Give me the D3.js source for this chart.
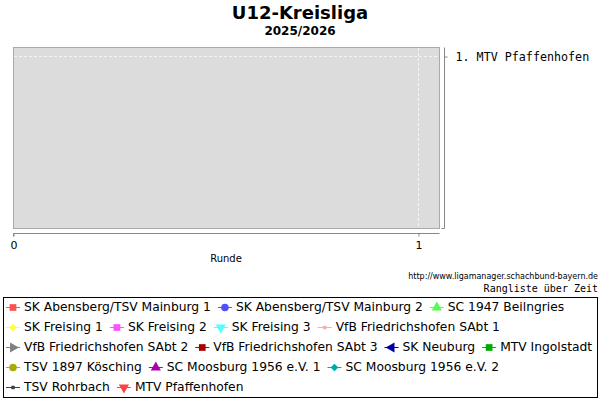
<!DOCTYPE html>
<html>
<head>
<meta charset="utf-8">
<script src="https://cdn.jsdelivr.net/npm/d3@7"></script>
<style>
  body { margin: 0; background: #fff; }
  svg { display: block; }
</style>
</head>
<body>
<svg></svg>
<script>
// data
let title = 'U12-Kreisliga'
let season = '2025/2026'
let rounds = [0, 1]
let rankTicks = [1]
let finalRanking = ['MTV Pfaffenhofen']
let teams = ['SK Abensberg/TSV Mainburg 1', 'SK Abensberg/TSV Mainburg 2', 'SC 1947 Beilngries',
             'SK Freising 1', 'SK Freising 2', 'SK Freising 3', 'VfB Friedrichshofen SAbt 1',
             'VfB Friedrichshofen SAbt 2', 'VfB Friedrichshofen SAbt 3', 'SK Neuburg', 'MTV Ingolstadt',
             'TSV 1897 Kösching', 'SC Moosburg 1956 e.V. 1', 'SC Moosburg 1956 e.V. 2',
             'TSV Rohrbach', 'MTV Pfaffenhofen']
let teamColors = ['#ff5050', '#5050ff', '#50ff50', '#ffff40', '#ff50ff', '#50ffff', '#ffaaaa',
                  '#808080', '#aa0000', '#0000aa', '#00aa00', '#aaaa00', '#aa00aa', '#00aaaa',
                  '#404040', '#ff4040']
let teamShapes = ['square', 'circle', 'triUp', 'diamond', 'square', 'triDown', 'dash',
                  'triRight', 'square', 'triLeft', 'square', 'circle', 'triUp', 'diamond',
                  'dash', 'triDown']

let width = 600
let height = 400

let svg = d3.select('svg')
svg.attr('width', width).attr('height', height)

let plot = {left: 13, right: 439, top: 47, bottom: 228}

let xScale = d3.scaleLinear().domain([0, 1.052]).range([plot.left, plot.right])
let yScale = d3.scaleLinear().domain([0.5, 10.5]).range([plot.top, plot.bottom])

// titles
svg.append('text')
   .attr('x', 300).attr('y', 19)
   .attr('text-anchor', 'middle')
   .style('font', 'bold 18px "DejaVu Sans"')
   .text(title)
svg.append('text')
   .attr('x', 300).attr('y', 35)
   .attr('text-anchor', 'middle')
   .style('font', 'bold 12px "DejaVu Sans"')
   .text(season)

// plot area
svg.append('rect')
   .attr('x', plot.left + 0.5).attr('y', plot.top + 0.5)
   .attr('width', plot.right - plot.left).attr('height', plot.bottom - plot.top)
   .attr('fill', '#dcdcdc')
   .attr('stroke', '#aaaaaa')

// grid
svg.selectAll('.vgrid')
   .data(rounds.filter(r => r > 0))
   .enter()
   .append('line')
   .attr('x1', d => Math.round(xScale(d)) + 0.5).attr('x2', d => Math.round(xScale(d)) + 0.5)
   .attr('y1', plot.top + 1).attr('y2', plot.bottom)
   .attr('stroke', '#f4f4f4')
   .attr('stroke-dasharray', '3,2')
svg.selectAll('.hgrid')
   .data(rankTicks)
   .enter()
   .append('line')
   .attr('x1', plot.left + 1).attr('x2', plot.right)
   .attr('y1', d => Math.round(yScale(d)) + 0.5).attr('y2', d => Math.round(yScale(d)) + 0.5)
   .attr('stroke', '#f4f4f4')
   .attr('stroke-dasharray', '3,2')

// x axis
let xAxis = d3.axisBottom(xScale).tickValues(rounds).tickFormat(d3.format('d')).tickSize(3).tickSizeOuter(0)
let gx = svg.append('g')
   .attr('transform', 'translate(0.5, 233.5)')
   .call(xAxis)
gx.select('.domain').attr('stroke', '#888').attr('d', 'M' + plot.left + ',3V0H' + plot.right)
gx.selectAll('line').attr('stroke', '#888')
gx.selectAll('text').style('font', '11px "DejaVu Sans"').attr('fill', '#000').attr('dy', '0.9em')

svg.append('text')
   .attr('x', 226).attr('y', 262)
   .attr('text-anchor', 'middle')
   .style('font', '10px "DejaVu Sans"')
   .text('Runde')

// right axis with final ranking
let yAxis = d3.axisRight(yScale).tickValues(rankTicks)
              .tickFormat((d, i) => d + '. ' + finalRanking[i])
              .tickSize(3).tickSizeOuter(0)
let gy = svg.append('g')
   .attr('transform', 'translate(444.5, 0.5)')
   .call(yAxis)
gy.select('.domain').attr('stroke', '#888').attr('d', 'M0,' + plot.top + 'V' + plot.bottom + 'H-3')
gy.selectAll('line').attr('stroke', '#888')
gy.selectAll('text').style('font', '11.7px "DejaVu Sans Mono"').attr('fill', '#000').attr('x', 11)

// series lines (no rounds played yet)
let rankings = teams.map(() => rounds.map(() => null))
let line = d3.line().defined(d => d != null).x((d, i) => xScale(rounds[i])).y(d => yScale(d))
svg.selectAll('.series')
   .data(rankings)
   .enter()
   .append('path')
   .attr('d', line)
   .attr('fill', 'none')
   .attr('stroke', (d, i) => teamColors[i])

// source lines
svg.append('text')
   .attr('x', 598).attr('y', 279)
   .attr('text-anchor', 'end')
   .style('font', '8px "DejaVu Sans"')
   .text('http://www.ligamanager.schachbund-bayern.de')
svg.append('text')
   .attr('x', 598).attr('y', 292)
   .attr('text-anchor', 'end')
   .style('font', '10px "DejaVu Sans Mono"')
   .text('Rangliste über Zeit')

// legend
svg.append('rect')
   .attr('x', 3.5).attr('y', 297.5)
   .attr('width', 594).attr('height', 100)
   .attr('fill', '#fff').attr('stroke', '#000')

let symbolFor = (shape) => {
    let types = {square: d3.symbolSquare, circle: d3.symbolCircle, triUp: d3.symbolTriangle,
                 diamond: d3.symbolSquare, triDown: d3.symbolTriangle, triRight: d3.symbolTriangle,
                 triLeft: d3.symbolTriangle, dash: d3.symbolSquare}
    let sizes = {dash: 12, diamond: 30}
    return d3.symbol().type(types[shape]).size(sizes[shape] || 45)()
}
let rotations = {triDown: 180, triRight: 90, triLeft: -90, diamond: 45}

let legend = svg.append('g').attr('class', 'legend')
let lx = 6, ly = 307
legend.selectAll('g')
   .data(teams)
   .enter()
   .append('g')
   .each(function(team, i) {
       let g = d3.select(this)
       let t = g.append('text')
                .attr('x', 18).attr('y', 0).attr('dy', '0.35em')
                .style('font', '12.3px "DejaVu Sans"')
                .text(team)
       let w = 18 + t.node().getComputedTextLength()
       if (lx + w > 594) { lx = 6; ly += 20 }
       g.attr('transform', 'translate(' + lx + ',' + ly + ')')
       g.insert('line', 'text')
        .attr('x1', 0).attr('x2', 14).attr('y1', 0.5).attr('y2', 0.5)
        .attr('stroke', teamColors[i])
       g.insert('path', 'text')
        .attr('d', symbolFor(teamShapes[i]))
        .attr('transform', 'translate(7,0.5) rotate(' + (rotations[teamShapes[i]] || 0) + ')')
        .attr('fill', teamColors[i])
       lx += w + 7
   })
</script>
</body>
</html>
